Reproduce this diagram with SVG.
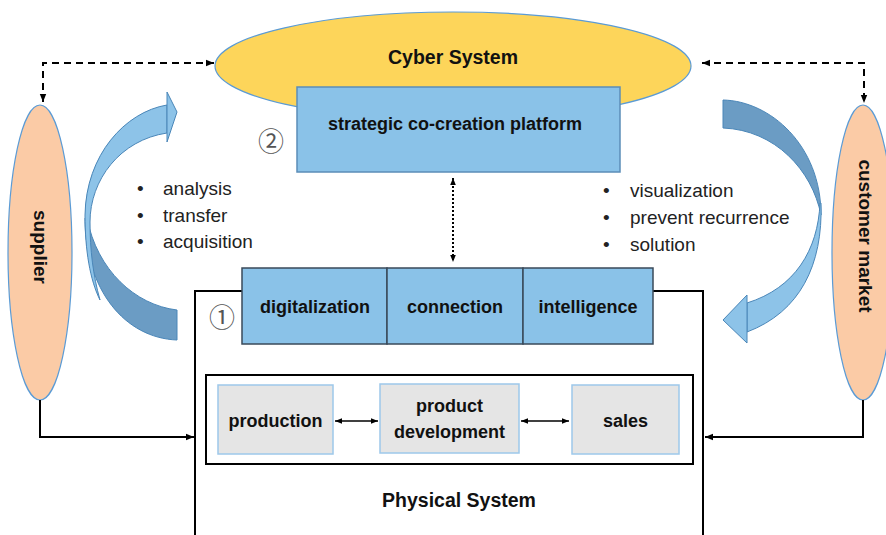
<svg xmlns="http://www.w3.org/2000/svg" width="886" height="535" viewBox="0 0 886 535">
<defs>
<marker id="ah" viewBox="0 0 10 10" refX="10" refY="5" markerWidth="8" markerHeight="8" markerUnits="userSpaceOnUse" orient="auto-start-reverse"><path d="M0,1 L10,5 L0,9 Z" fill="#000"/></marker>
<marker id="ahs" viewBox="0 0 10 10" refX="10" refY="5" markerWidth="7" markerHeight="7" markerUnits="userSpaceOnUse" orient="auto-start-reverse"><path d="M0,1 L10,5 L0,9 Z" fill="#000"/></marker>
<style>
.b{font-family:"Liberation Sans",Arial,sans-serif;font-weight:bold;fill:#111;text-anchor:middle}
.r{font-family:"Liberation Sans",Arial,sans-serif;font-size:19px;fill:#222}
.blue{fill:#8AC2E8;stroke:#3A4A5A;stroke-width:1.5}
.gray{fill:#E5E5E5;stroke:#9DC8EA;stroke-width:1.5}
.ell{fill:#FBCBA6;stroke:#5B9BD5;stroke-width:1.2}
.num{font-family:"Noto Sans CJK JP","DejaVu Sans",sans-serif;font-size:26px;fill:#555;text-anchor:middle}
.ln{fill:none;stroke:#000;stroke-width:2}
.light{fill:#8DC3E8;stroke:#4A86B8;stroke-width:1}
.dark{fill:#6B9CC4;stroke:#4A86B8;stroke-width:1}
</style>
</defs>
<rect width="886" height="535" fill="#fff"/>

<g id="physical-system">
<rect x="195" y="291" width="508" height="260" fill="#fff" stroke="#000" stroke-width="2"/>
<rect x="206" y="375" width="487" height="89" fill="#fff" stroke="#000" stroke-width="2"/>
<text class="b" x="459" y="507" font-size="19.5">Physical System</text>
<text class="num" x="222" y="327">①</text>
</g>

<g id="cyber-system">
<ellipse cx="453" cy="66" rx="238" ry="54" fill="#FDD55A" stroke="#5B9BD5" stroke-width="1.2"/>
<text class="b" x="453" y="64" font-size="19.5">Cyber System</text>
</g>

<g id="platform">
<rect class="blue" x="297" y="87" width="323" height="85" style="stroke:#5B8DB8"/>
<text class="b" x="455" y="130" font-size="18">strategic co-creation platform</text>
<text class="num" x="271" y="151">②</text>
</g>

<g id="digitalization"><rect class="blue" x="242" y="268" width="145" height="76"/><text class="b" x="315" y="313" font-size="18">digitalization</text></g>
<g id="connection"><rect class="blue" x="387" y="268" width="136" height="76"/><text class="b" x="455" y="313" font-size="18">connection</text></g>
<g id="intelligence"><rect class="blue" x="523" y="268" width="130" height="76"/><text class="b" x="588" y="313" font-size="18">intelligence</text></g>

<g id="production"><rect class="gray" x="218" y="385" width="115" height="69"/><text class="b" x="275.5" y="427" font-size="18">production</text></g>
<g id="product-development"><rect class="gray" x="380" y="384" width="139" height="69"/><text class="b" x="449.5" y="412" font-size="18">product</text><text class="b" x="449.5" y="438" font-size="18">development</text></g>
<g id="sales"><rect class="gray" x="572" y="385" width="107" height="69"/><text class="b" x="625.5" y="427" font-size="18">sales</text></g>

<g id="supplier">
<ellipse class="ell" cx="40" cy="252.5" rx="32" ry="147.5"/>
<text class="b" font-size="19" transform="translate(40,247) rotate(90)" dominant-baseline="central">supplier</text>
</g>
<g id="customer-market">
<ellipse class="ell" cx="863" cy="252.5" rx="31" ry="147.5"/>
<text class="b" font-size="19" transform="translate(865,236) rotate(90)" dominant-baseline="central">customer market</text>
</g>

<g id="left-curved-arrow">
<path class="dark" d="M85,218 C85,290 125,338 177,340 L177,310 C135,305 97,270 87,218 Z"/>
<path class="light" d="M167,105 C125,112 86,155 85,215 C85,250 90,280 100,300 C93,275 90,250 90,222 C90,180 120,140 167,133 Z"/>
<path class="light" d="M167,92 L177,112 L167,142 Z"/>
</g>
<g id="right-curved-arrow">
<path class="dark" d="M723,100 C770,101 821,145 821,215 C812,170 775,130 723,128 Z"/>
<path class="light" d="M821,203 C823,265 800,312 747,332 L747,303 C795,288 818,250 820,203 Z"/>
<path class="light" d="M747,295 L723,320 L747,343 Z"/>
</g>

<g id="labels">
<text class="r" x="137" y="195">•</text><text class="r" x="163" y="195">analysis</text>
<text class="r" x="137" y="222">•</text><text class="r" x="163" y="222">transfer</text>
<text class="r" x="137" y="248">•</text><text class="r" x="163" y="248">acquisition</text>
<text class="r" x="603" y="197">•</text><text class="r" x="630" y="197">visualization</text>
<text class="r" x="603" y="224">•</text><text class="r" x="630" y="224">prevent recurrence</text>
<text class="r" x="603" y="251">•</text><text class="r" x="630" y="251">solution</text>
</g>

<g id="connectors">
<path class="ln" d="M43,102 L43,63 L214,63" stroke-dasharray="7,5" marker-start="url(#ah)" marker-end="url(#ah)"/>
<path class="ln" d="M702,63 L864,63 L864,103" stroke-dasharray="7,5" marker-start="url(#ah)" marker-end="url(#ah)"/>
<path class="ln" d="M40,400 L40,437 L194,437" marker-end="url(#ah)"/>
<path class="ln" d="M863,400 L863,437 L705,437" marker-end="url(#ah)"/>
<path class="ln" d="M453,178 L453,262" stroke-dasharray="2,2" marker-start="url(#ahs)" marker-end="url(#ahs)"/>
<path fill="none" stroke="#000" stroke-width="1.3" d="M335,421 L378,421" marker-start="url(#ahs)" marker-end="url(#ahs)"/>
<path fill="none" stroke="#000" stroke-width="1.3" d="M521,421 L569,421" marker-start="url(#ahs)" marker-end="url(#ahs)"/>
</g>
</svg>
